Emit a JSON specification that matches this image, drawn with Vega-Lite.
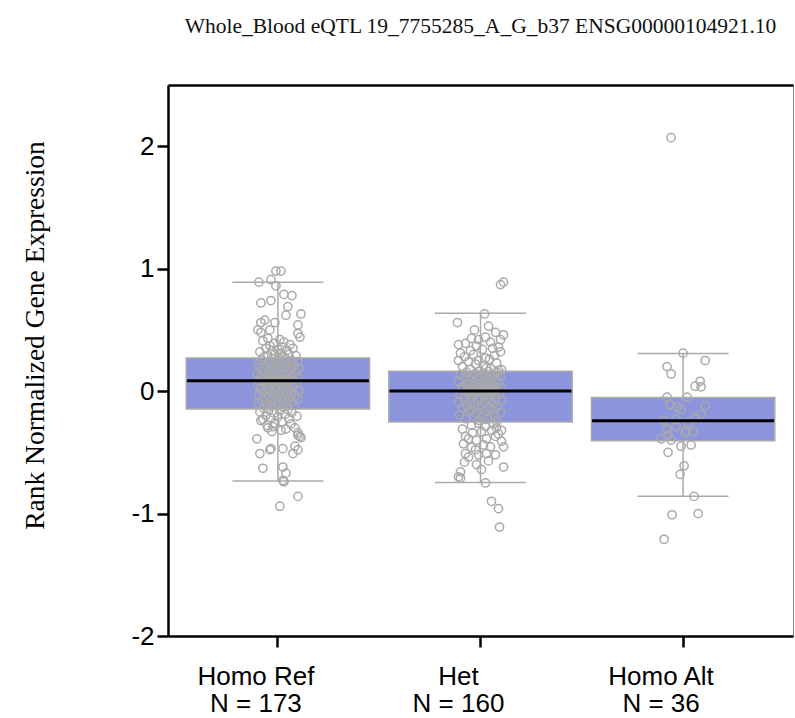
{
  "$schema": "https://vega.github.io/schema/vega-lite/v6.json",
  "width": 625,
  "height": 551,
  "autosize": {"type": "none"},
  "padding": {"left": 168, "top": 85, "right": 2, "bottom": 82},
  "background": "white",
  "title": {"text": "Whole_Blood eQTL 19_7755285_A_G_b37 ENSG00000104921.10", "font": "Liberation Serif", "fontSize": 21.5, "fontWeight": "normal", "color": "#111111", "anchor": "middle", "frame": "group", "baseline": "alphabetic", "offset": 31},
  "config": {
    "view": {"stroke": "#888888", "strokeWidth": 1},
    "axis": {"domainColor": "black", "domainWidth": 2.5, "tickColor": "black", "tickWidth": 2.5, "grid": false, "labelColor": "black", "labelFont": "Liberation Sans"},
    "axisY": {"labelFontSize": 26, "labelPadding": 3, "tickSize": 11, "titleFont": "Liberation Serif", "titleFontSize": 27.5, "titleFontWeight": "normal", "titleColor": "black", "titlePadding": 81, "titleY": 250}
  },
  "datasets": {
    "summary": [
      {"genotype": "Homo Ref", "lower": -0.735, "q1": -0.147, "median": 0.084, "q3": 0.27, "upper": 0.89},
      {"genotype": "Het", "lower": -0.746, "q1": -0.253, "median": 0.0, "q3": 0.163, "upper": 0.635},
      {"genotype": "Homo Alt", "lower": -0.858, "q1": -0.406, "median": -0.243, "q3": -0.052, "upper": 0.308}
    ],
    "points": [
      {"genotype":"Homo Ref","expr":0.98,"jitter":-2},{"genotype":"Homo Ref","expr":0.98,"jitter":3},{"genotype":"Homo Ref","expr":0.91,"jitter":-7},{"genotype":"Homo Ref","expr":0.89,"jitter":-19},{"genotype":"Homo Ref","expr":0.86,"jitter":-2},{"genotype":"Homo Ref","expr":0.79,"jitter":6},{"genotype":"Homo Ref","expr":0.78,"jitter":14},{"genotype":"Homo Ref","expr":0.74,"jitter":-7},{"genotype":"Homo Ref","expr":0.72,"jitter":-17},{"genotype":"Homo Ref","expr":0.69,"jitter":10},
      {"genotype":"Homo Ref","expr":0.63,"jitter":23},{"genotype":"Homo Ref","expr":0.62,"jitter":8},{"genotype":"Homo Ref","expr":0.58,"jitter":-13},{"genotype":"Homo Ref","expr":0.56,"jitter":-17},{"genotype":"Homo Ref","expr":0.56,"jitter":-3},{"genotype":"Homo Ref","expr":0.54,"jitter":20},{"genotype":"Homo Ref","expr":0.50,"jitter":-20},{"genotype":"Homo Ref","expr":0.48,"jitter":-17},{"genotype":"Homo Ref","expr":0.50,"jitter":-8},{"genotype":"Homo Ref","expr":0.47,"jitter":20},
      {"genotype":"Homo Ref","expr":0.44,"jitter":22},{"genotype":"Homo Ref","expr":0.43,"jitter":-10},{"genotype":"Homo Ref","expr":0.42,"jitter":2},{"genotype":"Homo Ref","expr":0.41,"jitter":-15},{"genotype":"Homo Ref","expr":0.40,"jitter":6},{"genotype":"Homo Ref","expr":0.39,"jitter":-4},{"genotype":"Homo Ref","expr":0.38,"jitter":12},{"genotype":"Homo Ref","expr":0.37,"jitter":-8},{"genotype":"Homo Ref","expr":0.36,"jitter":4},{"genotype":"Homo Ref","expr":0.35,"jitter":-12},
      {"genotype":"Homo Ref","expr":0.35,"jitter":15},{"genotype":"Homo Ref","expr":0.34,"jitter":0},{"genotype":"Homo Ref","expr":0.33,"jitter":-6},{"genotype":"Homo Ref","expr":0.33,"jitter":9},{"genotype":"Homo Ref","expr":0.32,"jitter":-18},{"genotype":"Homo Ref","expr":0.31,"jitter":3},{"genotype":"Homo Ref","expr":0.30,"jitter":-3},{"genotype":"Homo Ref","expr":0.30,"jitter":11},{"genotype":"Homo Ref","expr":0.29,"jitter":-10},{"genotype":"Homo Ref","expr":0.29,"jitter":18},
      {"genotype":"Homo Ref","expr":0.28,"jitter":6},{"genotype":"Homo Ref","expr":0.28,"jitter":-14},{"genotype":"Homo Ref","expr":0.27,"jitter":1},
      {"genotype":"Homo Ref","expr":0.265,"jitter":-5},{"genotype":"Homo Ref","expr":0.26,"jitter":8},{"genotype":"Homo Ref","expr":0.255,"jitter":-16},{"genotype":"Homo Ref","expr":0.25,"jitter":14},{"genotype":"Homo Ref","expr":0.245,"jitter":-2},{"genotype":"Homo Ref","expr":0.24,"jitter":20},{"genotype":"Homo Ref","expr":0.235,"jitter":-9},{"genotype":"Homo Ref","expr":0.23,"jitter":4},{"genotype":"Homo Ref","expr":0.225,"jitter":-20},{"genotype":"Homo Ref","expr":0.22,"jitter":10},
      {"genotype":"Homo Ref","expr":0.215,"jitter":-6},{"genotype":"Homo Ref","expr":0.21,"jitter":16},{"genotype":"Homo Ref","expr":0.205,"jitter":0},{"genotype":"Homo Ref","expr":0.20,"jitter":-12},{"genotype":"Homo Ref","expr":0.195,"jitter":7},{"genotype":"Homo Ref","expr":0.19,"jitter":-18},{"genotype":"Homo Ref","expr":0.185,"jitter":21},{"genotype":"Homo Ref","expr":0.18,"jitter":-3},{"genotype":"Homo Ref","expr":0.175,"jitter":12},{"genotype":"Homo Ref","expr":0.17,"jitter":-8},
      {"genotype":"Homo Ref","expr":0.165,"jitter":2},{"genotype":"Homo Ref","expr":0.16,"jitter":-15},{"genotype":"Homo Ref","expr":0.155,"jitter":18},{"genotype":"Homo Ref","expr":0.15,"jitter":-5},{"genotype":"Homo Ref","expr":0.145,"jitter":9},{"genotype":"Homo Ref","expr":0.14,"jitter":-21},{"genotype":"Homo Ref","expr":0.135,"jitter":5},{"genotype":"Homo Ref","expr":0.13,"jitter":-10},{"genotype":"Homo Ref","expr":0.125,"jitter":14},{"genotype":"Homo Ref","expr":0.12,"jitter":-1},
      {"genotype":"Homo Ref","expr":0.115,"jitter":-17},{"genotype":"Homo Ref","expr":0.11,"jitter":20},{"genotype":"Homo Ref","expr":0.105,"jitter":3},{"genotype":"Homo Ref","expr":0.10,"jitter":-7},{"genotype":"Homo Ref","expr":0.098,"jitter":11},{"genotype":"Homo Ref","expr":0.095,"jitter":-13},{"genotype":"Homo Ref","expr":0.092,"jitter":6},{"genotype":"Homo Ref","expr":0.09,"jitter":-3},{"genotype":"Homo Ref","expr":0.088,"jitter":16},{"genotype":"Homo Ref","expr":0.086,"jitter":-19},
      {"genotype":"Homo Ref","expr":0.085,"jitter":1},{"genotype":"Homo Ref","expr":0.084,"jitter":-9},{"genotype":"Homo Ref","expr":0.083,"jitter":8},{"genotype":"Homo Ref","expr":0.084,"jitter":4},
      {"genotype":"Homo Ref","expr":0.08,"jitter":-4},{"genotype":"Homo Ref","expr":0.075,"jitter":12},{"genotype":"Homo Ref","expr":0.07,"jitter":-14},{"genotype":"Homo Ref","expr":0.065,"jitter":3},{"genotype":"Homo Ref","expr":0.06,"jitter":19},{"genotype":"Homo Ref","expr":0.055,"jitter":-8},{"genotype":"Homo Ref","expr":0.05,"jitter":7},{"genotype":"Homo Ref","expr":0.045,"jitter":-20},{"genotype":"Homo Ref","expr":0.04,"jitter":0},{"genotype":"Homo Ref","expr":0.035,"jitter":15},
      {"genotype":"Homo Ref","expr":0.03,"jitter":-11},{"genotype":"Homo Ref","expr":0.025,"jitter":5},{"genotype":"Homo Ref","expr":0.02,"jitter":-17},{"genotype":"Homo Ref","expr":0.015,"jitter":10},{"genotype":"Homo Ref","expr":0.01,"jitter":-2},{"genotype":"Homo Ref","expr":0.005,"jitter":21},{"genotype":"Homo Ref","expr":0.0,"jitter":-7},{"genotype":"Homo Ref","expr":-0.005,"jitter":2},{"genotype":"Homo Ref","expr":-0.01,"jitter":-15},{"genotype":"Homo Ref","expr":-0.015,"jitter":13},
      {"genotype":"Homo Ref","expr":-0.02,"jitter":-4},{"genotype":"Homo Ref","expr":-0.025,"jitter":8},{"genotype":"Homo Ref","expr":-0.03,"jitter":-19},{"genotype":"Homo Ref","expr":-0.035,"jitter":17},{"genotype":"Homo Ref","expr":-0.04,"jitter":-9},{"genotype":"Homo Ref","expr":-0.045,"jitter":4},{"genotype":"Homo Ref","expr":-0.05,"jitter":-13},{"genotype":"Homo Ref","expr":-0.055,"jitter":11},{"genotype":"Homo Ref","expr":-0.06,"jitter":-1},{"genotype":"Homo Ref","expr":-0.065,"jitter":20},
      {"genotype":"Homo Ref","expr":-0.07,"jitter":-6},{"genotype":"Homo Ref","expr":-0.075,"jitter":6},{"genotype":"Homo Ref","expr":-0.08,"jitter":-16},{"genotype":"Homo Ref","expr":-0.085,"jitter":14},{"genotype":"Homo Ref","expr":-0.09,"jitter":-3},{"genotype":"Homo Ref","expr":-0.095,"jitter":9},{"genotype":"Homo Ref","expr":-0.10,"jitter":-20},{"genotype":"Homo Ref","expr":-0.105,"jitter":1},{"genotype":"Homo Ref","expr":-0.11,"jitter":-11},{"genotype":"Homo Ref","expr":-0.115,"jitter":16},
      {"genotype":"Homo Ref","expr":-0.12,"jitter":-7},{"genotype":"Homo Ref","expr":-0.13,"jitter":5},{"genotype":"Homo Ref","expr":-0.14,"jitter":-14},
      {"genotype":"Homo Ref","expr":-0.24,"jitter":-17},{"genotype":"Homo Ref","expr":-0.30,"jitter":-10},{"genotype":"Homo Ref","expr":-0.29,"jitter":-5},{"genotype":"Homo Ref","expr":-0.32,"jitter":3},{"genotype":"Homo Ref","expr":-0.30,"jitter":17},{"genotype":"Homo Ref","expr":-0.34,"jitter":20},{"genotype":"Homo Ref","expr":-0.37,"jitter":22},{"genotype":"Homo Ref","expr":-0.39,"jitter":-21},{"genotype":"Homo Ref","expr":-0.47,"jitter":-7},{"genotype":"Homo Ref","expr":-0.48,"jitter":-8},
      {"genotype":"Homo Ref","expr":-0.47,"jitter":5},{"genotype":"Homo Ref","expr":-0.45,"jitter":17},{"genotype":"Homo Ref","expr":-0.48,"jitter":20},{"genotype":"Homo Ref","expr":-0.51,"jitter":-18},{"genotype":"Homo Ref","expr":-0.51,"jitter":15},{"genotype":"Homo Ref","expr":-0.63,"jitter":-15},{"genotype":"Homo Ref","expr":-0.62,"jitter":5},{"genotype":"Homo Ref","expr":-0.67,"jitter":8},{"genotype":"Homo Ref","expr":-0.73,"jitter":5},{"genotype":"Homo Ref","expr":-0.74,"jitter":6},
      {"genotype":"Homo Ref","expr":-0.86,"jitter":20},{"genotype":"Homo Ref","expr":-0.94,"jitter":2},{"genotype":"Homo Ref","expr":-0.36,"jitter":20},{"genotype":"Homo Ref","expr":-0.38,"jitter":23},
      {"genotype":"Homo Ref","expr":-0.15,"jitter":10},{"genotype":"Homo Ref","expr":-0.155,"jitter":-9},{"genotype":"Homo Ref","expr":-0.16,"jitter":2},{"genotype":"Homo Ref","expr":-0.17,"jitter":-18},{"genotype":"Homo Ref","expr":-0.175,"jitter":14},{"genotype":"Homo Ref","expr":-0.18,"jitter":-4},{"genotype":"Homo Ref","expr":-0.19,"jitter":7},{"genotype":"Homo Ref","expr":-0.20,"jitter":-12},{"genotype":"Homo Ref","expr":-0.205,"jitter":19},{"genotype":"Homo Ref","expr":-0.21,"jitter":0},
      {"genotype":"Homo Ref","expr":-0.22,"jitter":-7},{"genotype":"Homo Ref","expr":-0.225,"jitter":11},{"genotype":"Homo Ref","expr":-0.23,"jitter":-15},{"genotype":"Homo Ref","expr":-0.25,"jitter":4},{"genotype":"Homo Ref","expr":-0.26,"jitter":-3},{"genotype":"Homo Ref","expr":-0.27,"jitter":13},{"genotype":"Homo Ref","expr":-0.28,"jitter":-11},{"genotype":"Homo Ref","expr":-0.31,"jitter":8},{"genotype":"Homo Ref","expr":-0.33,"jitter":-6},

      {"genotype":"Het","expr":0.89,"jitter":23},{"genotype":"Het","expr":0.87,"jitter":20},{"genotype":"Het","expr":0.63,"jitter":4},{"genotype":"Het","expr":0.56,"jitter":-23},{"genotype":"Het","expr":0.53,"jitter":8},{"genotype":"Het","expr":0.50,"jitter":-6},{"genotype":"Het","expr":0.48,"jitter":15},{"genotype":"Het","expr":0.46,"jitter":23},{"genotype":"Het","expr":0.44,"jitter":5},{"genotype":"Het","expr":0.43,"jitter":-9},
      {"genotype":"Het","expr":0.42,"jitter":-2},{"genotype":"Het","expr":0.42,"jitter":20},{"genotype":"Het","expr":0.39,"jitter":-15},{"genotype":"Het","expr":0.38,"jitter":-22},{"genotype":"Het","expr":0.36,"jitter":18},{"genotype":"Het","expr":0.33,"jitter":-10},{"genotype":"Het","expr":0.32,"jitter":20},{"genotype":"Het","expr":0.31,"jitter":-20},{"genotype":"Het","expr":0.27,"jitter":5},{"genotype":"Het","expr":0.25,"jitter":-2},
      {"genotype":"Het","expr":0.25,"jitter":-22},{"genotype":"Het","expr":0.24,"jitter":-12},{"genotype":"Het","expr":0.185,"jitter":10},{"genotype":"Het","expr":0.17,"jitter":18},{"genotype":"Het","expr":0.40,"jitter":10},{"genotype":"Het","expr":0.37,"jitter":-4},{"genotype":"Het","expr":0.35,"jitter":12},{"genotype":"Het","expr":0.34,"jitter":2},{"genotype":"Het","expr":0.30,"jitter":-7},{"genotype":"Het","expr":0.29,"jitter":14},
      {"genotype":"Het","expr":0.28,"jitter":-16},{"genotype":"Het","expr":0.26,"jitter":9},{"genotype":"Het","expr":0.23,"jitter":16},{"genotype":"Het","expr":0.22,"jitter":-5},{"genotype":"Het","expr":0.21,"jitter":3},{"genotype":"Het","expr":0.20,"jitter":-18},{"genotype":"Het","expr":0.19,"jitter":6},{"genotype":"Het","expr":0.18,"jitter":-10},{"genotype":"Het","expr":0.175,"jitter":21},{"genotype":"Het","expr":0.165,"jitter":-1},
      {"genotype":"Het","expr":0.16,"jitter":8},{"genotype":"Het","expr":0.155,"jitter":-14},{"genotype":"Het","expr":0.15,"jitter":17},{"genotype":"Het","expr":0.145,"jitter":-5},{"genotype":"Het","expr":0.14,"jitter":3},{"genotype":"Het","expr":0.135,"jitter":-20},{"genotype":"Het","expr":0.13,"jitter":12},{"genotype":"Het","expr":0.125,"jitter":-9},{"genotype":"Het","expr":0.12,"jitter":20},{"genotype":"Het","expr":0.115,"jitter":0},
      {"genotype":"Het","expr":0.11,"jitter":-16},{"genotype":"Het","expr":0.105,"jitter":7},{"genotype":"Het","expr":0.10,"jitter":-3},{"genotype":"Het","expr":0.095,"jitter":15},{"genotype":"Het","expr":0.09,"jitter":-11},{"genotype":"Het","expr":0.085,"jitter":4},{"genotype":"Het","expr":0.08,"jitter":-22},{"genotype":"Het","expr":0.075,"jitter":10},{"genotype":"Het","expr":0.07,"jitter":-6},{"genotype":"Het","expr":0.065,"jitter":18},
      {"genotype":"Het","expr":0.06,"jitter":-1},{"genotype":"Het","expr":0.055,"jitter":-14},{"genotype":"Het","expr":0.05,"jitter":6},{"genotype":"Het","expr":0.045,"jitter":13},{"genotype":"Het","expr":0.04,"jitter":-8},{"genotype":"Het","expr":0.035,"jitter":1},{"genotype":"Het","expr":0.03,"jitter":-18},{"genotype":"Het","expr":0.025,"jitter":21},{"genotype":"Het","expr":0.02,"jitter":-4},{"genotype":"Het","expr":0.018,"jitter":9},
      {"genotype":"Het","expr":0.016,"jitter":-12},{"genotype":"Het","expr":0.014,"jitter":2},{"genotype":"Het","expr":0.012,"jitter":16},{"genotype":"Het","expr":0.01,"jitter":-7},{"genotype":"Het","expr":0.008,"jitter":5},{"genotype":"Het","expr":0.006,"jitter":-19},{"genotype":"Het","expr":0.004,"jitter":11},{"genotype":"Het","expr":0.003,"jitter":-2},{"genotype":"Het","expr":0.002,"jitter":14},{"genotype":"Het","expr":0.001,"jitter":-10},
      {"genotype":"Het","expr":-0.005,"jitter":3},{"genotype":"Het","expr":-0.01,"jitter":-13},{"genotype":"Het","expr":-0.015,"jitter":12},{"genotype":"Het","expr":-0.02,"jitter":-5},{"genotype":"Het","expr":-0.025,"jitter":19},{"genotype":"Het","expr":-0.03,"jitter":-20},{"genotype":"Het","expr":-0.035,"jitter":7},{"genotype":"Het","expr":-0.04,"jitter":-8},{"genotype":"Het","expr":-0.05,"jitter":15},{"genotype":"Het","expr":-0.055,"jitter":0},
      {"genotype":"Het","expr":-0.06,"jitter":-16},{"genotype":"Het","expr":-0.065,"jitter":9},{"genotype":"Het","expr":-0.07,"jitter":-3},{"genotype":"Het","expr":-0.075,"jitter":21},{"genotype":"Het","expr":-0.08,"jitter":-11},{"genotype":"Het","expr":-0.085,"jitter":4},{"genotype":"Het","expr":-0.09,"jitter":-22},{"genotype":"Het","expr":-0.10,"jitter":13},{"genotype":"Het","expr":-0.105,"jitter":-6},{"genotype":"Het","expr":-0.11,"jitter":1},
      {"genotype":"Het","expr":-0.12,"jitter":-14},{"genotype":"Het","expr":-0.125,"jitter":17},{"genotype":"Het","expr":-0.13,"jitter":-2},{"genotype":"Het","expr":-0.135,"jitter":8},{"genotype":"Het","expr":-0.14,"jitter":-18},{"genotype":"Het","expr":-0.15,"jitter":11},{"genotype":"Het","expr":-0.155,"jitter":-9},{"genotype":"Het","expr":-0.16,"jitter":5},{"genotype":"Het","expr":-0.17,"jitter":-12},{"genotype":"Het","expr":-0.175,"jitter":20},
      {"genotype":"Het","expr":-0.18,"jitter":-4},{"genotype":"Het","expr":-0.19,"jitter":14},{"genotype":"Het","expr":-0.195,"jitter":-21},{"genotype":"Het","expr":-0.20,"jitter":2},{"genotype":"Het","expr":-0.21,"jitter":-7},{"genotype":"Het","expr":-0.215,"jitter":10},{"genotype":"Het","expr":-0.225,"jitter":-15},{"genotype":"Het","expr":-0.23,"jitter":6},{"genotype":"Het","expr":-0.24,"jitter":-1},{"genotype":"Het","expr":-0.25,"jitter":16},
      {"genotype":"Het","expr":-0.28,"jitter":-9},{"genotype":"Het","expr":-0.26,"jitter":-2},{"genotype":"Het","expr":-0.29,"jitter":5},{"genotype":"Het","expr":-0.32,"jitter":11},{"genotype":"Het","expr":-0.30,"jitter":16},{"genotype":"Het","expr":-0.32,"jitter":21},{"genotype":"Het","expr":-0.37,"jitter":-15},{"genotype":"Het","expr":-0.39,"jitter":-12},{"genotype":"Het","expr":-0.40,"jitter":-4},{"genotype":"Het","expr":-0.39,"jitter":6},
      {"genotype":"Het","expr":-0.37,"jitter":15},{"genotype":"Het","expr":-0.41,"jitter":21},{"genotype":"Het","expr":-0.455,"jitter":23},{"genotype":"Het","expr":-0.51,"jitter":-15},{"genotype":"Het","expr":-0.48,"jitter":-5},{"genotype":"Het","expr":-0.52,"jitter":-2},{"genotype":"Het","expr":-0.54,"jitter":-12},{"genotype":"Het","expr":-0.51,"jitter":6},{"genotype":"Het","expr":-0.52,"jitter":15},{"genotype":"Het","expr":-0.455,"jitter":10},
      {"genotype":"Het","expr":-0.60,"jitter":-4},{"genotype":"Het","expr":-0.62,"jitter":23},{"genotype":"Het","expr":-0.66,"jitter":-20},{"genotype":"Het","expr":-0.71,"jitter":-20},{"genotype":"Het","expr":-0.70,"jitter":-22},{"genotype":"Het","expr":-0.75,"jitter":5},{"genotype":"Het","expr":-0.90,"jitter":11},{"genotype":"Het","expr":-0.96,"jitter":18},{"genotype":"Het","expr":-1.11,"jitter":19},{"genotype":"Het","expr":-0.27,"jitter":13},
      {"genotype":"Het","expr":-0.31,"jitter":-18},{"genotype":"Het","expr":-0.33,"jitter":1},{"genotype":"Het","expr":-0.34,"jitter":-8},{"genotype":"Het","expr":-0.35,"jitter":18},{"genotype":"Het","expr":-0.43,"jitter":-17},{"genotype":"Het","expr":-0.44,"jitter":3},{"genotype":"Het","expr":-0.46,"jitter":-9},{"genotype":"Het","expr":-0.57,"jitter":8},{"genotype":"Het","expr":-0.58,"jitter":-16},{"genotype":"Het","expr":-0.64,"jitter":1},

      {"genotype":"Homo Alt","expr":2.07,"jitter":-12},{"genotype":"Homo Alt","expr":0.31,"jitter":0},{"genotype":"Homo Alt","expr":0.25,"jitter":22},{"genotype":"Homo Alt","expr":0.20,"jitter":-16},{"genotype":"Homo Alt","expr":0.14,"jitter":-12},{"genotype":"Homo Alt","expr":0.08,"jitter":17},{"genotype":"Homo Alt","expr":0.04,"jitter":12},{"genotype":"Homo Alt","expr":0.035,"jitter":18},{"genotype":"Homo Alt","expr":-0.05,"jitter":-16},{"genotype":"Homo Alt","expr":-0.05,"jitter":4},
      {"genotype":"Homo Alt","expr":-0.11,"jitter":-13},{"genotype":"Homo Alt","expr":-0.13,"jitter":-6},{"genotype":"Homo Alt","expr":-0.12,"jitter":22},{"genotype":"Homo Alt","expr":-0.19,"jitter":18},{"genotype":"Homo Alt","expr":-0.24,"jitter":-20},{"genotype":"Homo Alt","expr":-0.23,"jitter":-7},{"genotype":"Homo Alt","expr":-0.29,"jitter":-7},{"genotype":"Homo Alt","expr":-0.31,"jitter":-16},{"genotype":"Homo Alt","expr":-0.32,"jitter":3},{"genotype":"Homo Alt","expr":-0.33,"jitter":10},
      {"genotype":"Homo Alt","expr":-0.34,"jitter":2},{"genotype":"Homo Alt","expr":-0.39,"jitter":-22},{"genotype":"Homo Alt","expr":-0.40,"jitter":-12},{"genotype":"Homo Alt","expr":-0.36,"jitter":-15},{"genotype":"Homo Alt","expr":-0.45,"jitter":-2},{"genotype":"Homo Alt","expr":-0.44,"jitter":8},{"genotype":"Homo Alt","expr":-0.50,"jitter":-15},{"genotype":"Homo Alt","expr":-0.61,"jitter":1},{"genotype":"Homo Alt","expr":-0.68,"jitter":-3},{"genotype":"Homo Alt","expr":-0.86,"jitter":11},
      {"genotype":"Homo Alt","expr":-1.01,"jitter":-11},{"genotype":"Homo Alt","expr":-1.00,"jitter":15},{"genotype":"Homo Alt","expr":-1.21,"jitter":-19},{"genotype":"Homo Alt","expr":-0.26,"jitter":5},{"genotype":"Homo Alt","expr":-0.15,"jitter":-2},{"genotype":"Homo Alt","expr":-0.22,"jitter":12}
    ]
  },
  "encoding": {
    "x": {"field": "genotype", "type": "nominal", "sort": ["Homo Ref", "Het", "Homo Alt"], "scale": {"domain": ["Homo Ref", "Het", "Homo Alt"], "paddingInner": 0.095, "paddingOuter": 0.09}, "axis": null}
  },
  "resolve": {"axis": {"x": "independent"}, "scale": {"xOffset": "independent"}},
  "layer": [
    {
      "data": {"name": "summary"},
      "mark": {"type": "rule", "color": "#aaaaaa", "strokeWidth": 1.5, "opacity": 1},
      "encoding": {
        "x": {"field": "genotype", "type": "nominal", "sort": ["Homo Ref", "Het", "Homo Alt"],
          "axis": {"orient": "bottom", "title": null, "labelAngle": 0, "labelFontSize": 26, "labelPadding": 16, "labelLineHeight": 27, "labelOffset": -22, "labelOverlap": false, "tickSize": 11, "domainWidth": 2.5,
            "labelExpr": "datum.value == 'Homo Ref' ? ['Homo Ref', 'N = 173'] : datum.value == 'Het' ? ['Het', 'N = 160'] : ['Homo Alt', 'N = 36']"}},
        "y": {"field": "lower", "type": "quantitative", "scale": {"domain": [-2, 2.5], "nice": false, "zero": false},
          "axis": {"title": "Rank Normalized Gene Expression", "values": [-2, -1, 0, 1, 2], "labelExpr": "'' + datum.value"}},
        "y2": {"field": "upper"}
      }
    },
    {
      "data": {"name": "summary"},
      "mark": {"type": "tick", "color": "#aaaaaa", "thickness": 1.5, "size": 91, "opacity": 1},
      "encoding": {"y": {"field": "upper", "type": "quantitative", "axis": {"title": "Rank Normalized Gene Expression", "values": [-2, -1, 0, 1, 2], "labelExpr": "'' + datum.value"}}}
    },
    {
      "data": {"name": "summary"},
      "mark": {"type": "tick", "color": "#aaaaaa", "thickness": 1.5, "size": 91, "opacity": 1},
      "encoding": {"y": {"field": "lower", "type": "quantitative", "axis": {"title": "Rank Normalized Gene Expression", "values": [-2, -1, 0, 1, 2], "labelExpr": "'' + datum.value"}}}
    },
    {
      "data": {"name": "summary"},
      "mark": {"type": "bar", "fill": "#8c94de", "stroke": "#aaaaaa", "strokeWidth": 1.5, "opacity": 1, "width": {"band": 1}},
      "encoding": {
        "x": {"field": "genotype", "type": "nominal", "sort": ["Homo Ref", "Het", "Homo Alt"],
          "axis": {"orient": "top", "title": null, "labels": false, "ticks": false, "domainWidth": 2.5}},
        "y": {"field": "q1", "type": "quantitative", "axis": {"title": "Rank Normalized Gene Expression", "values": [-2, -1, 0, 1, 2], "labelExpr": "'' + datum.value"}},
        "y2": {"field": "q3"}
      }
    },
    {
      "data": {"name": "points"},
      "mark": {"type": "point", "shape": "circle", "filled": false, "stroke": "#a9a9a9", "strokeWidth": 1.5, "size": 68, "opacity": 1},
      "encoding": {
        "xOffset": {"field": "jitter", "type": "quantitative", "scale": {"domain": [-91.5, 91.5]}},
        "y": {"field": "expr", "type": "quantitative", "axis": {"title": "Rank Normalized Gene Expression", "values": [-2, -1, 0, 1, 2], "labelExpr": "'' + datum.value"}}
      }
    },
    {
      "data": {"name": "summary"},
      "mark": {"type": "tick", "color": "black", "thickness": 3, "size": 182, "opacity": 1},
      "encoding": {"y": {"field": "median", "type": "quantitative", "axis": {"title": "Rank Normalized Gene Expression", "values": [-2, -1, 0, 1, 2], "labelExpr": "'' + datum.value"}}}
    }
  ]
}
